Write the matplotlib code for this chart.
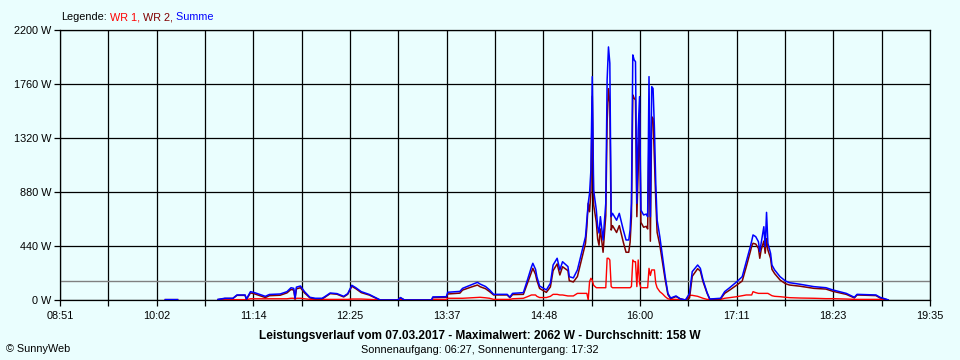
import numpy as np
import matplotlib
matplotlib.use("Agg")
import matplotlib.pyplot as plt

# data (time, Summe, WR 1, WR 2) in W
times = ["10:09", "10:18", "10:30",
         "10:48", "10:53", "10:59", "11:02", "11:08", "11:09", "11:12", "11:15", "11:19", "11:23",
         "11:26", "11:34", "11:39", "11:42", "11:44", "11:45", "11:46", "11:49", "11:52", "11:56",
         "12:00", "12:05", "12:07", "12:11", "12:16", "12:21", "12:24", "12:27", "12:30", "12:34",
         "12:40", "12:44", "12:48", "13:01", "13:03", "13:06", "13:26", "13:27", "13:37", "13:38",
         "13:47", "13:49", "13:55", "14:00", "14:02", "14:06", "14:09", "14:12", "14:22", "14:24",
         "14:26", "14:34", "14:37", "14:40", "14:41", "14:43", "14:44", "14:46", "14:51", "14:54",
         "14:56", "14:59", "15:01", "15:03", "15:07", "15:08", "15:11", "15:14", "15:17", "15:20",
         "15:21", "15:22", "15:23", "15:24", "15:25", "15:26", "15:28", "15:29", "15:30", "15:31",
         "15:33", "15:34", "15:35", "15:36", "15:37", "15:38", "15:39", "15:40", "15:43", "15:45",
         "15:48", "15:50", "15:52", "15:53", "15:54", "15:55", "15:56", "15:57", "15:58", "15:59",
         "16:00", "16:01", "16:03", "16:05", "16:06", "16:07", "16:08", "16:09", "16:10", "16:11",
         "16:12", "16:13", "16:15", "16:17", "16:19", "16:21", "16:23", "16:27", "16:30", "16:34",
         "16:37", "16:39", "16:43", "16:45", "16:47", "16:50", "16:52", "17:00", "17:03", "17:07",
         "17:12", "17:16", "17:19", "17:22", "17:23", "17:24", "17:26", "17:28", "17:29", "17:30",
         "17:32", "17:33", "17:34", "17:35", "17:37", "17:38", "17:40", "17:44", "17:48", "17:51",
         "17:59", "18:09", "18:18", "18:23", "18:33", "18:39", "18:41", "18:55", "18:58", "19:03",
         "19:04"]
summe = [3, 3, None,
         5, 14, 14, 41, 41, 8, 68, 60, 45, 30,
         45, 49, 68, 100, 95, 15, 105, 114, 68, 22,
         14, 14, 27, 57, 52, 30, 52, 120, 100, 68,
         45, 22, 0, 0, 20, 0, 0, 25, 27, 63,
         70, 95, 122, 144, 130, 110, 82, 46, 46, 24,
         54, 60, 163, 270, 299, 250, 190, 114, 82, 136,
         285, 340, 245, 312, 272, 190, 180, 245, 380, 516,
         650, 788, 869, 1060, 1820, 896, 733, 597, 546, 679,
         489, 638, 788, 1793, 2062, 1929, 679, 706, 650, 706,
         570, 489, 489, 570, 788, 1997, 1956, 1942, 788, 1385,
         1657, 733, 693, 700, 679, 1820, 679, 1738, 1724, 1400,
         951, 652, 516, 353, 190, 54, 16, 33, 10, 0,
         54, 231, 285, 258, 163, 60, 8, 14, 68, 103,
         149, 190, 312, 435, 480, 530, 516, 475, 394, 462,
         597, 435, 714, 462, 380, 285, 245, 190, 155, 141,
         128, 109, 100, 82, 54, 22, 46, 41, 22, 5,
         0]
wr1 = [0, 0, None,
       2, 2, 2, 3, 3, 3, 10, 10, 10, 10,
       10, 10, 10, 14, 14, 5, 14, 14, 10, 5,
       5, 5, 5, 5, 5, 5, 5, 8, 8, 8,
       5, 3, 0, 0, 3, 0, 0, 5, 5, 14,
       14, 14, 18, 22, 22, 18, 14, 5, 5, 5,
       10, 14, 27, 41, 41, 41, 30, 20, 20, 30,
       46, 46, 41, 41, 33, 33, 33, 54, 54, 54,
       54, 0, 150, 177, 160, 120, 100, 100, 100, 100,
       100, 100, 100, 340, 340, 326, 109, 100, 100, 100,
       100, 100, 100, 100, 110, 326, 312, 312, 109, 326,
       136, 100, 100, 100, 100, 258, 200, 245, 245, 245,
       136, 100, 68, 50, 27, 10, 5, 5, 0, 0,
       38, 38, 30, 22, 14, 5, 3, 5, 14, 20,
       27, 35, 41, 41, 41, 68, 60, 54, 54, 54,
       54, 54, 54, 54, 41, 35, 30, 27, 22, 19,
       16, 14, 11, 11, 8, 5, 5, 5, 5, 2,
       0]
wr2 = [3, 3, None,
       3, 12, 12, 38, 38, 5, 58, 50, 35, 20,
       35, 39, 58, 86, 81, 10, 91, 100, 58, 17,
       9, 9, 22, 52, 47, 25, 47, 112, 92, 60,
       40, 19, 0, 0, 17, 0, 0, 20, 22, 49,
       56, 81, 104, 122, 108, 92, 68, 41, 41, 19,
       44, 46, 136, 229, 258, 209, 160, 94, 62, 106,
       239, 294, 204, 271, 239, 157, 147, 191, 326, 462,
       596, 788, 719, 883, 1660, 776, 633, 497, 446, 579,
       389, 538, 688, 1453, 1722, 1603, 570, 606, 550, 606,
       470, 389, 389, 470, 678, 1671, 1644, 1630, 679, 1059,
       1521, 633, 593, 600, 579, 1350, 479, 1493, 1479, 1155,
       815, 552, 448, 303, 163, 44, 11, 28, 10, 0,
       16, 193, 255, 236, 149, 55, 5, 9, 54, 83,
       122, 155, 271, 394, 439, 462, 456, 421, 340, 408,
       480, 381, 500, 408, 339, 250, 215, 163, 133, 122,
       112, 95, 89, 71, 46, 17, 41, 36, 17, 3,
       0]

mittelwert = 158
y_ticks = [0, 440, 880, 1320, 1760, 2200]
x_labels = ["08:51", "10:02", "11:14", "12:25", "13:37", "14:48", "16:00", "17:11", "18:23", "19:35"]

bg = "#eafefe"
plt.rcParams["font.family"] = ["Liberation Sans", "DejaVu Sans"]


def to_min(s):
    h, m = s.split(":")
    return int(h) * 60 + int(m)


x = np.array([to_min(t) for t in times], dtype=float)
s_vals = np.array(summe, dtype=float)
r_vals = np.array(wr1, dtype=float)
w_vals = np.array(wr2, dtype=float)

fig = plt.figure(figsize=(9.6, 3.6), dpi=100, facecolor=bg)
ax = fig.add_axes([60 / 960, 60 / 360, 870 / 960, 270 / 360])
ax.set_facecolor(bg)

x0, x1 = to_min(x_labels[0]), to_min(x_labels[-1])
ax.set_xlim(x0, x1)
ax.set_ylim(0, 2200)

# grid every half label step
xt = np.linspace(x0, x1, 2 * len(x_labels) - 1)
xl = []
for i in range(len(xt)):
    xl.append(x_labels[i // 2] if i % 2 == 0 else "")
ax.set_xticks(xt)
ax.set_xticklabels(xl)
ax.set_yticks(y_ticks)
ax.set_yticklabels([f"{v} W" for v in y_ticks])

ax.grid(True, color="black", lw=0.9)
ax.set_axisbelow(True)
for sp in ax.spines.values():
    sp.set_color("black")
    sp.set_linewidth(0.9)
ax.tick_params(direction="out", length=4, width=0.9, color="black", labelsize=7.8)
ax.tick_params(axis="x", pad=4)
ax.tick_params(axis="y", pad=2)

ax.axhline(mittelwert, color="#808080", lw=1.0, zorder=1.5)

ax.plot(x, r_vals, color="#ff0000", lw=1.0, zorder=3)
ax.plot(x, w_vals, color="#800000", lw=1.1, zorder=4)
ax.plot(x, s_vals, color="#0000ff", lw=1.1, zorder=5)

# legend line on top
t = fig.text(61 / 960, 1 - 17 / 360, "Legende:", color="black", fontsize=7.8, va="center", ha="left")
t = ax.annotate(" WR 1,", xy=(1, 0), xycoords=t, va="bottom", ha="left", color="#ff0000", fontsize=7.8)
t = ax.annotate(" WR 2,", xy=(1, 0), xycoords=t, va="bottom", ha="left", color="#800000", fontsize=7.8)
t = ax.annotate(" Summe", xy=(1, 0), xycoords=t, va="bottom", ha="left", color="#0000ff", fontsize=7.8)

fig.text(0.5, 1 - 336 / 360,
         "Leistungsverlauf vom 07.03.2017 - Maximalwert: 2062 W - Durchschnitt: 158 W",
         ha="center", va="center", fontsize=8.6, fontweight="bold")
fig.text(0.5, 1 - 350 / 360, "Sonnenaufgang: 06:27, Sonnenuntergang: 17:32",
         ha="center", va="center", fontsize=7.8)
fig.text(6 / 960, 1 - 349 / 360, "© SunnyWeb", ha="left", va="center", fontsize=7.8)

fig.savefig("out.png", dpi=100, facecolor=bg)
